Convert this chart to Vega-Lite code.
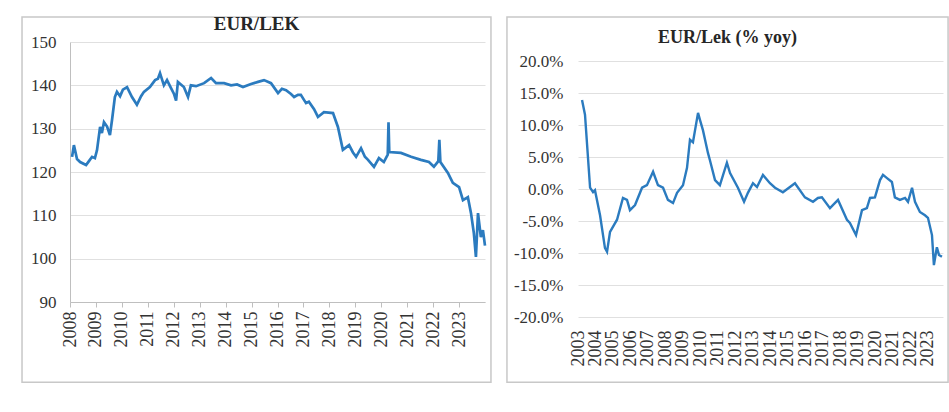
{
  "$schema": "https://vega.github.io/schema/vega-lite/v6.json",
  "background": "white",
  "padding": {"left": 21, "top": 15, "right": 0, "bottom": 0},
  "spacing": 14,
  "config": {
    "view": {"stroke": null},
    "font": "Liberation Serif",
    "axis": {"labelFont": "Liberation Serif", "labelColor": "#333333", "title": null}
  },
  "hconcat": [
    {
      "width": 415,
      "height": 260,
      "title": {"text": "EUR/LEK", "font": "Liberation Serif", "fontSize": 19, "fontWeight": "bold", "color": "#262626", "dx": -21, "offset": -18},
      "layer": [
        {
          "data": {"values": [
            {"year": 2008.08, "rate": 123.5}, {"year": 2008.15, "rate": 126.2}, {"year": 2008.27, "rate": 123.0},
            {"year": 2008.39, "rate": 122.3}, {"year": 2008.62, "rate": 121.6}, {"year": 2008.73, "rate": 122.5},
            {"year": 2008.85, "rate": 123.5}, {"year": 2008.96, "rate": 123.2}, {"year": 2009.04, "rate": 125.0},
            {"year": 2009.16, "rate": 130.4}, {"year": 2009.23, "rate": 129.0}, {"year": 2009.31, "rate": 131.5},
            {"year": 2009.43, "rate": 130.5}, {"year": 2009.54, "rate": 128.5}, {"year": 2009.62, "rate": 132.0},
            {"year": 2009.73, "rate": 137.3}, {"year": 2009.81, "rate": 138.5}, {"year": 2009.93, "rate": 137.5},
            {"year": 2010.04, "rate": 139.0}, {"year": 2010.20, "rate": 139.6}, {"year": 2010.39, "rate": 137.3},
            {"year": 2010.58, "rate": 135.5}, {"year": 2010.74, "rate": 137.5}, {"year": 2010.85, "rate": 138.5},
            {"year": 2011.08, "rate": 139.6}, {"year": 2011.28, "rate": 141.2}, {"year": 2011.39, "rate": 141.5},
            {"year": 2011.47, "rate": 142.8}, {"year": 2011.62, "rate": 140.0}, {"year": 2011.74, "rate": 141.2},
            {"year": 2011.89, "rate": 139.4}, {"year": 2012.01, "rate": 138.0}, {"year": 2012.09, "rate": 136.5},
            {"year": 2012.16, "rate": 140.8}, {"year": 2012.39, "rate": 139.6}, {"year": 2012.55, "rate": 137.3},
            {"year": 2012.66, "rate": 140.0}, {"year": 2012.86, "rate": 139.8}, {"year": 2013.17, "rate": 140.5},
            {"year": 2013.44, "rate": 141.7}, {"year": 2013.63, "rate": 140.5}, {"year": 2013.94, "rate": 140.5},
            {"year": 2014.21, "rate": 140.0}, {"year": 2014.44, "rate": 140.2}, {"year": 2014.67, "rate": 139.6},
            {"year": 2014.98, "rate": 140.3}, {"year": 2015.25, "rate": 140.8}, {"year": 2015.48, "rate": 141.2},
            {"year": 2015.75, "rate": 140.5}, {"year": 2016.02, "rate": 138.2}, {"year": 2016.17, "rate": 139.2},
            {"year": 2016.33, "rate": 138.9}, {"year": 2016.52, "rate": 138.0}, {"year": 2016.64, "rate": 137.3},
            {"year": 2016.79, "rate": 137.8}, {"year": 2016.90, "rate": 137.8}, {"year": 2017.10, "rate": 135.9},
            {"year": 2017.21, "rate": 136.2}, {"year": 2017.41, "rate": 134.5}, {"year": 2017.56, "rate": 132.7},
            {"year": 2017.79, "rate": 133.8}, {"year": 2018.14, "rate": 133.6}, {"year": 2018.33, "rate": 130.4},
            {"year": 2018.52, "rate": 125.1}, {"year": 2018.76, "rate": 126.2}, {"year": 2018.91, "rate": 124.5},
            {"year": 2019.03, "rate": 123.5}, {"year": 2019.22, "rate": 125.5}, {"year": 2019.37, "rate": 123.5},
            {"year": 2019.49, "rate": 122.8}, {"year": 2019.72, "rate": 121.2}, {"year": 2019.91, "rate": 123.2},
            {"year": 2020.10, "rate": 122.3}, {"year": 2020.25, "rate": 124.0}, {"year": 2020.28, "rate": 131.5},
            {"year": 2020.31, "rate": 124.6}, {"year": 2020.76, "rate": 124.4}, {"year": 2021.15, "rate": 123.5},
            {"year": 2021.53, "rate": 122.8}, {"year": 2021.84, "rate": 122.3}, {"year": 2022.03, "rate": 121.2},
            {"year": 2022.20, "rate": 122.5}, {"year": 2022.24, "rate": 127.4}, {"year": 2022.28, "rate": 122.3},
            {"year": 2022.57, "rate": 119.8}, {"year": 2022.76, "rate": 117.5}, {"year": 2023.00, "rate": 116.5},
            {"year": 2023.15, "rate": 113.5}, {"year": 2023.34, "rate": 114.2}, {"year": 2023.46, "rate": 110.5},
            {"year": 2023.57, "rate": 105.9}, {"year": 2023.65, "rate": 100.4}, {"year": 2023.73, "rate": 110.5},
            {"year": 2023.84, "rate": 105.0}, {"year": 2023.92, "rate": 106.6}, {"year": 2024.0, "rate": 103.0}
          ]},
          "mark": {"type": "line", "color": "#2b7bbf", "strokeWidth": 2.7},
          "encoding": {
            "x": {
              "field": "year", "type": "quantitative",
              "scale": {"domain": [2008, 2024], "nice": false, "zero": false},
              "axis": {"values": [2008, 2009, 2010, 2011, 2012, 2013, 2014, 2015, 2016, 2017, 2018, 2019, 2020, 2021, 2022, 2023],
                       "format": "d", "labelAngle": -90, "labelFontSize": 18, "labelPadding": 4,
                       "grid": false, "domainColor": "#bfbfbf", "tickColor": "#bfbfbf", "tickSize": 5, "labelFlush": false, "labelOverlap": false}
            },
            "y": {
              "field": "rate", "type": "quantitative",
              "scale": {"domain": [90, 150], "nice": false, "zero": false},
              "axis": {"values": [90, 100, 110, 120, 130, 140, 150], "labelFontSize": 17, "labelPadding": 14,
                       "ticks": false, "grid": true, "gridColor": "#e0e0e0", "domainColor": "#bfbfbf", "labelOverlap": false}
            }
          }
        },
        {
          "data": {"values": [{}]},
          "mark": {"type": "rect", "filled": false, "stroke": "#c8c8c8", "strokeWidth": 1.5, "clip": false},
          "encoding": {
            "x": {"datum": 2006.15, "type": "quantitative",
                  "axis": {"values": [2008, 2009, 2010, 2011, 2012, 2013, 2014, 2015, 2016, 2017, 2018, 2019, 2020, 2021, 2022, 2023],
                       "format": "d", "labelAngle": -90, "labelFontSize": 18, "labelPadding": 4,
                       "grid": false, "domainColor": "#bfbfbf", "tickColor": "#bfbfbf", "tickSize": 5, "labelFlush": false, "labelOverlap": false}},
            "x2": {"datum": 2024.23},
            "y": {"datum": 155.77, "type": "quantitative",
                  "axis": {"values": [90, 100, 110, 120, 130, 140, 150], "labelFontSize": 17, "labelPadding": 14,
                       "ticks": false, "grid": true, "gridColor": "#e0e0e0", "domainColor": "#bfbfbf", "labelOverlap": false}},
            "y2": {"datum": 71.5}
          }
        }
      ]
    },
    {
      "width": 365,
      "height": 275,
      "title": {"text": "EUR/Lek (% yoy)", "font": "Liberation Serif", "fontSize": 18, "fontWeight": "bold", "color": "#262626", "dx": -33, "offset": -31},
      "layer": [
        {
          "data": {"values": [
            {"year": 2003.23, "pct": 13.9}, {"year": 2003.40, "pct": 11.6}, {"year": 2003.69, "pct": 0.2},
            {"year": 2003.86, "pct": -0.5}, {"year": 2003.97, "pct": -0.2}, {"year": 2004.26, "pct": -4.1},
            {"year": 2004.54, "pct": -9.2}, {"year": 2004.66, "pct": -9.8}, {"year": 2004.83, "pct": -6.7},
            {"year": 2005.23, "pct": -4.8}, {"year": 2005.57, "pct": -1.4}, {"year": 2005.80, "pct": -1.7},
            {"year": 2005.97, "pct": -3.3}, {"year": 2006.26, "pct": -2.5}, {"year": 2006.66, "pct": 0.2},
            {"year": 2006.94, "pct": 0.6}, {"year": 2007.29, "pct": 2.7}, {"year": 2007.57, "pct": 0.6},
            {"year": 2007.86, "pct": 0.2}, {"year": 2008.14, "pct": -1.7}, {"year": 2008.43, "pct": -2.2},
            {"year": 2008.66, "pct": -0.6}, {"year": 2009.00, "pct": 0.6}, {"year": 2009.23, "pct": 3.3},
            {"year": 2009.40, "pct": 7.7}, {"year": 2009.57, "pct": 7.3}, {"year": 2009.86, "pct": 11.9},
            {"year": 2009.97, "pct": 10.8}, {"year": 2010.14, "pct": 9.2}, {"year": 2010.43, "pct": 5.6},
            {"year": 2010.54, "pct": 4.5}, {"year": 2010.83, "pct": 1.4}, {"year": 2011.11, "pct": 0.6},
            {"year": 2011.51, "pct": 4.1}, {"year": 2011.69, "pct": 2.5}, {"year": 2012.14, "pct": 0.2},
            {"year": 2012.49, "pct": -2.0}, {"year": 2012.71, "pct": -0.6}, {"year": 2013.00, "pct": 0.9},
            {"year": 2013.23, "pct": 0.3}, {"year": 2013.57, "pct": 2.2}, {"year": 2013.97, "pct": 0.9},
            {"year": 2014.26, "pct": 0.2}, {"year": 2014.71, "pct": -0.5}, {"year": 2015.40, "pct": 0.9},
            {"year": 2015.97, "pct": -1.3}, {"year": 2016.43, "pct": -2.0}, {"year": 2016.71, "pct": -1.4},
            {"year": 2016.94, "pct": -1.3}, {"year": 2017.40, "pct": -3.0}, {"year": 2017.86, "pct": -1.7},
            {"year": 2018.37, "pct": -4.8}, {"year": 2018.54, "pct": -5.3}, {"year": 2018.89, "pct": -7.2},
            {"year": 2019.23, "pct": -3.3}, {"year": 2019.51, "pct": -3.0}, {"year": 2019.69, "pct": -1.4},
            {"year": 2019.97, "pct": -1.3}, {"year": 2020.26, "pct": 1.4}, {"year": 2020.43, "pct": 2.2},
            {"year": 2020.66, "pct": 1.7}, {"year": 2020.94, "pct": 1.1}, {"year": 2021.11, "pct": -1.3},
            {"year": 2021.40, "pct": -1.7}, {"year": 2021.69, "pct": -1.4}, {"year": 2021.86, "pct": -2.0},
            {"year": 2022.09, "pct": 0.2}, {"year": 2022.26, "pct": -2.0}, {"year": 2022.54, "pct": -3.6},
            {"year": 2022.83, "pct": -4.1}, {"year": 2023.00, "pct": -4.5}, {"year": 2023.23, "pct": -7.2},
            {"year": 2023.34, "pct": -11.9}, {"year": 2023.51, "pct": -9.1}, {"year": 2023.63, "pct": -10.3},
            {"year": 2023.80, "pct": -10.6}
          ]},
          "mark": {"type": "line", "color": "#2b7bbf", "strokeWidth": 2.4},
          "encoding": {
            "x": {
              "field": "year", "type": "quantitative",
              "scale": {"domain": [2003, 2023.86], "nice": false, "zero": false},
              "axis": {"values": [2003, 2004, 2005, 2006, 2007, 2008, 2009, 2010, 2011, 2012, 2013, 2014, 2015, 2016, 2017, 2018, 2019, 2020, 2021, 2022, 2023],
                       "format": "d", "labelAngle": -90, "labelFontSize": 18, "labelPadding": 13,
                       "grid": false, "domain": false, "ticks": false, "labelFlush": false, "labelOverlap": false}
            },
            "y": {
              "field": "pct", "type": "quantitative",
              "scale": {"domain": [-20, 22.97], "nice": false, "zero": false},
              "axis": {"values": [-20, -15, -10, -5, 0, 5, 10, 15, 20],
                       "labelExpr": "replace(format(datum.value, '.1f'), '\u2212', '-') + '%'",
                       "labelFontSize": 17, "labelPadding": 15, "ticks": false, "domain": false,
                       "grid": true, "gridColor": "#e0e0e0", "labelOverlap": false}
            }
          }
        },
        {
          "data": {"values": [{}]},
          "mark": {"type": "rect", "filled": false, "stroke": "#c8c8c8", "strokeWidth": 1.5, "clip": false},
          "encoding": {
            "x": {"datum": 1998.94, "type": "quantitative",
                  "axis": {"values": [2003, 2004, 2005, 2006, 2007, 2008, 2009, 2010, 2011, 2012, 2013, 2014, 2015, 2016, 2017, 2018, 2019, 2020, 2021, 2022, 2023],
                       "format": "d", "labelAngle": -90, "labelFontSize": 18, "labelPadding": 13,
                       "grid": false, "domain": false, "ticks": false, "labelFlush": false, "labelOverlap": false}},
            "x2": {"datum": 2024.15},
            "y": {"datum": 26.875, "type": "quantitative",
                  "axis": {"values": [-20, -15, -10, -5, 0, 5, 10, 15, 20],
                       "labelExpr": "replace(format(datum.value, '.1f'), '\u2212', '-') + '%'",
                       "labelFontSize": 17, "labelPadding": 15, "ticks": false, "domain": false,
                       "grid": true, "gridColor": "#e0e0e0", "labelOverlap": false}},
            "y2": {"datum": -30.2}
          }
        }
      ]
    }
  ]
}
